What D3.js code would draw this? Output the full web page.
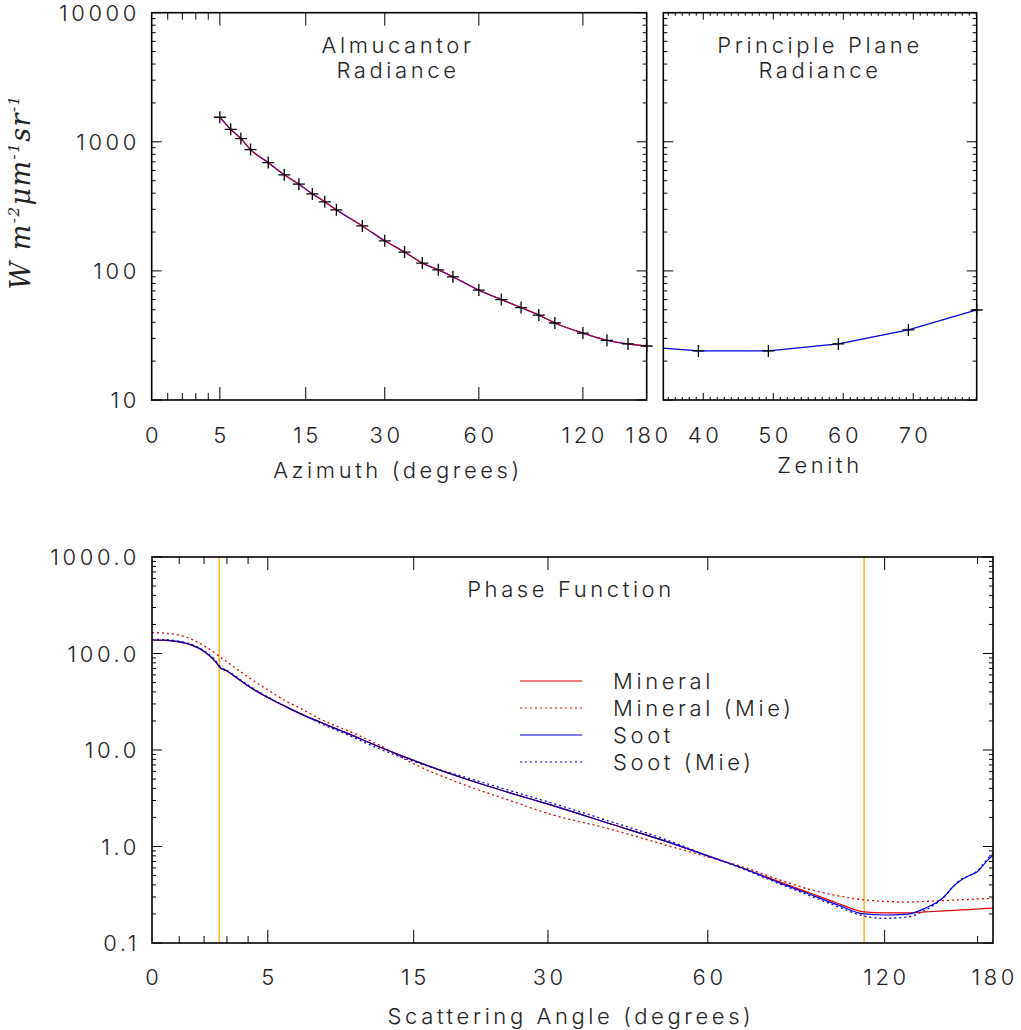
<!DOCTYPE html>
<html><head><meta charset="utf-8">
<script src="https://cdn.jsdelivr.net/npm/d3@7"></script>
<style>
body{margin:0;background:#fff;}
text{font-family:Inter,"DejaVu Sans",sans-serif;font-weight:300;fill:#222;}
</style></head>
<body><svg id="c" width="1021" height="1030"></svg>
<script>
// ---------- data ----------
const almAzimuth = [5,6,7,8,10,12,14,16,18,20,25,30,35,40,45,50,60,70,80,90,100,120,140,160,180];
const almRadiance = [1550,1250,1060,870,690,555,470,395,343,297,223,171,140,115,102,90,71,60,52,45.5,39.5,33,29,27.2,26.2];
const ppZenith = [39.3,49.3,59.3,69.3,79.06];
const ppRadiance = [24.0,24.0,27.2,34.9,49.8];
const ppLineZenith = [34.29,39.3,49.3,59.3,69.3,79.06];
const ppLineRadiance = [25.2,24.0,24.0,27.2,34.9,49.8];

const phAngle = [0,0.5,1,1.5,2,2.5,2.7,3,3.5,4,5,6,7,8,10,12,15,20,25,30,40,50,60,70,80,90,100,111,120,130,140,150,155,160,165,170,175,180];
const mineral = [138,137,132,122,105,82,71,66,55,46,35,28,23,19.5,14.5,11,7.8,5.0,3.6,2.75,1.7,1.15,0.8,0.58,0.43,0.33,0.26,0.21,0.205,0.205,0.21,0.215,0.218,0.22,0.222,0.225,0.228,0.23];
const mineralMie = [165,162,155,140,120,100,92,82,68,57,42,32,26,21,15.5,11.5,7.2,4.3,3.0,2.2,1.5,1.05,0.78,0.6,0.45,0.36,0.31,0.28,0.27,0.265,0.27,0.275,0.278,0.28,0.283,0.286,0.288,0.29];
const soot = [138,137,132,122,105,82,71,66,55,46,35,28,23,19.5,14.5,11,7.8,5.0,3.6,2.75,1.7,1.15,0.8,0.58,0.42,0.32,0.25,0.2,0.195,0.198,0.23,0.3,0.38,0.45,0.5,0.55,0.68,0.82];
const sootMie = [140,139,134,124,107,84,73,67,56,47,35.5,28,23,19,14,10.5,7.6,5.2,3.8,2.9,1.8,1.2,0.8,0.57,0.41,0.31,0.24,0.19,0.18,0.185,0.22,0.3,0.38,0.46,0.5,0.56,0.7,0.85];
const orangeLines = [2.65,111];

const yTicksTop = [10,100,1000,10000];
const yTicksBottom = [0.1,1,10,100,1000];
const xTickAngles = [0,5,15,30,60,120,180];
const xMinorAngles = [1,2,3,4];
const zenTicks = [40,50,60,70];

const legendNames = ["Mineral","Mineral (Mie)","Soot","Soot (Mie)"];
const legendColors = ["#e00000","#e00000","#0000e0","#0000e0"];
const legendDash = [null,"2,3",null,"2,3"];

// ---------- setup ----------
const svg = d3.select("#c");
const RED="#e00000", BLUE="#0000e0", ORANGE="#ffa500";

function minorLog(lo,hi){const r=[];for(let e=Math.floor(Math.log10(lo));e<Math.log10(hi);e++){for(let m=2;m<=9;m++){const v=m*Math.pow(10,e);if(v>lo&&v<hi)r.push(v);}}return r;}

function frame(g,x0,y0,x1,y1){
  g.append("rect").attr("x",x0).attr("y",y0).attr("width",x1-x0).attr("height",y1-y0)
   .attr("fill","none").attr("stroke","#000").attr("stroke-width",1.6);
}
function yTicksDraw(g,y,x0,x1,majors,minors,maj,min){
  majors.forEach(v=>{const yy=y(v);g.append("line").attr("x1",x0).attr("x2",x0+maj).attr("y1",yy).attr("y2",yy).attr("stroke","#000");
    g.append("line").attr("x1",x1).attr("x2",x1-maj).attr("y1",yy).attr("y2",yy).attr("stroke","#000");});
  minors.forEach(v=>{const yy=y(v);g.append("line").attr("x1",x0).attr("x2",x0+min).attr("y1",yy).attr("y2",yy).attr("stroke","#000");
    g.append("line").attr("x1",x1).attr("x2",x1-min).attr("y1",yy).attr("y2",yy).attr("stroke","#000");});
}
function xTicksDraw(g,x,y0,y1,majors,minors,maj,min){
  majors.forEach(v=>{const xx=x(v);g.append("line").attr("x1",xx).attr("x2",xx).attr("y1",y1).attr("y2",y1-maj).attr("stroke","#000");
    g.append("line").attr("x1",xx).attr("x2",xx).attr("y1",y0).attr("y2",y0+maj).attr("stroke","#000");});
  minors.forEach(v=>{const xx=x(v);g.append("line").attr("x1",xx).attr("x2",xx).attr("y1",y1).attr("y2",y1-min).attr("stroke","#000");
    g.append("line").attr("x1",xx).attr("x2",xx).attr("y1",y0).attr("y2",y0+min).attr("stroke","#000");});
}
const LS = 3.6; // letter spacing
function label(x,y,t,anchor,size){
  return svg.append("text").attr("x",x).attr("y",y).attr("text-anchor",anchor||"middle")
    .attr("font-size",size||22).attr("letter-spacing",LS).text(t);
}

// ---------- panel 1: almucantar ----------
const p1 = {x0:151.7,x1:646.7,y0:12.7,y1:400};
const xAlm = d3.scaleSymlog().constant(10).domain([0,180]).range([p1.x0,p1.x1]);
const yTop = d3.scaleLog().domain([10,10000]).range([p1.y1,p1.y0]);
const g1 = svg.append("g");
xTicksDraw(g1,xAlm,p1.y0,p1.y1,xTickAngles.slice(1,-1),xMinorAngles,13,7);
yTicksDraw(g1,yTop,p1.x0,p1.x1,yTicksTop,minorLog(10,10000),10,4);
const lineAlm = d3.line().x((d,i)=>xAlm(almAzimuth[i])).y(d=>yTop(d)).curve(d3.curveMonotoneX);
g1.append("path").attr("d",lineAlm(almRadiance)).attr("fill","none").attr("stroke",BLUE).attr("stroke-width",1.3);
g1.append("path").attr("d",lineAlm(almRadiance)).attr("fill","none").attr("stroke",RED).attr("stroke-width",1.1).attr("opacity",0.85);
almAzimuth.forEach((a,i)=>{const cx=xAlm(a),cy=yTop(almRadiance[i]);
  g1.append("path").attr("d",`M${cx-6},${cy}H${cx+6}M${cx},${cy-6}V${cy+6}`).attr("stroke","#000").attr("stroke-width",1.3);});
frame(g1,p1.x0,p1.y0,p1.x1,p1.y1);
xTickAngles.forEach(a=>label(xAlm(a)+LS/2,443,String(a)));
yTicksTop.forEach(v=>label(140,yTop(v)+8,String(v),"end"));
label(398,53,"Almucantor");
label(398,78,"Radiance");
label(398,478,"Azimuth (degrees)");

// ---------- panel 2: principal plane ----------
const p2 = {x0:663.3,x1:976.7,y0:12.7,y1:400};
const xZen = d3.scaleLinear().domain([34.29,79.06]).range([p2.x0,p2.x1]);
const g2 = svg.append("g");
xTicksDraw(g2,xZen,p2.y0,p2.y1,zenTicks,d3.range(35,80).filter(v=>v%10!==0),7,3);
yTicksDraw(g2,yTop,p2.x0,p2.x1,yTicksTop,minorLog(10,10000),10,4);
const linePP = d3.line().x((d,i)=>xZen(ppLineZenith[i])).y(d=>yTop(d));
g2.append("path").attr("d",linePP(ppLineRadiance)).attr("fill","none").attr("stroke",BLUE).attr("stroke-width",1.3);
ppZenith.forEach((z,i)=>{const cx=xZen(z),cy=yTop(ppRadiance[i]);
  g2.append("path").attr("d",`M${cx-6},${cy}H${cx+6}M${cx},${cy-6}V${cy+6}`).attr("stroke","#000").attr("stroke-width",1.3);});
frame(g2,p2.x0,p2.y0,p2.x1,p2.y1);
zenTicks.forEach(z=>label(xZen(z)+LS/2,443,String(z)));
label(820,53,"Principle Plane");
label(820,78,"Radiance");
label(820,473,"Zenith");

// y axis title
const yt = svg.append("text").attr("transform","translate(30,192) rotate(-90)").attr("text-anchor","middle")
  .style("font-family","'DejaVu Serif','Liberation Serif',serif").style("font-style","italic").style("font-weight","400")
  .attr("font-size",27).attr("letter-spacing",1.5);
[["W m",0],["-2",1],["\u03BCm",0],["-1",1],["sr",0],["-1",1]].forEach(([t,s])=>{
  const ts=yt.append("tspan").text(t);
  if(s){ts.attr("font-size",15).attr("dy",-11);} else ts.attr("dy",yt.selectAll("tspan").size()>1?11:0);
});

// ---------- panel 3: phase function ----------
const p3 = {x0:152,x1:993,y0:557,y1:943};
const xPh = d3.scaleSymlog().constant(10).domain([0,180]).range([p3.x0,p3.x1]);
const yPh = d3.scaleLog().domain([0.1,1000]).range([p3.y1,p3.y0]);
const g3 = svg.append("g");
svg.append("clipPath").attr("id","cp3").append("rect").attr("x",p3.x0).attr("y",p3.y0).attr("width",p3.x1-p3.x0).attr("height",p3.y1-p3.y0);
xTicksDraw(g3,xPh,p3.y0,p3.y1,xTickAngles.slice(1,-1),xMinorAngles.concat([170]),13,7);
yTicksDraw(g3,yPh,p3.x0,p3.x1,yTicksBottom,minorLog(0.1,1000),10,4);
orangeLines.forEach(a=>g3.append("line").attr("x1",xPh(a)).attr("x2",xPh(a)).attr("y1",p3.y0).attr("y2",p3.y1).attr("stroke",ORANGE).attr("stroke-width",1.3));
const linePh = d3.line().x((d,i)=>xPh(phAngle[i])).y(d=>yPh(d)).curve(d3.curveMonotoneX);
const cg = g3.append("g").attr("clip-path","url(#cp3)");
cg.append("path").attr("d",linePh(mineralMie)).attr("fill","none").attr("stroke",RED).attr("stroke-width",1.3).attr("stroke-dasharray","2,3");
cg.append("path").attr("d",linePh(sootMie)).attr("fill","none").attr("stroke",BLUE).attr("stroke-width",1.3).attr("stroke-dasharray","2,3");
cg.append("path").attr("d",linePh(mineral)).attr("fill","none").attr("stroke",RED).attr("stroke-width",1.2);
cg.append("path").attr("d",linePh(soot)).attr("fill","none").attr("stroke",BLUE).attr("stroke-width",1.2);
cg.append("path").attr("d",linePh(mineral.slice(0,22))).attr("fill","none").attr("stroke","#300010").attr("stroke-width",0.8).attr("opacity",0.5);
frame(g3,p3.x0,p3.y0,p3.x1,p3.y1);
xTickAngles.forEach(a=>label(xPh(a)+LS/2,985,String(a)));
yTicksBottom.forEach(v=>label(140,yPh(v)+8,v.toFixed(1),"end"));
label(571,597,"Phase Function");
label(571,1024,"Scattering Angle (degrees)");
legendNames.forEach((n,i)=>{
  const y = 681+i*27;
  const l = g3.append("line").attr("x1",520).attr("x2",582).attr("y1",y).attr("y2",y).attr("stroke",legendColors[i]).attr("stroke-width",1.2);
  if(legendDash[i]) l.attr("stroke-dasharray",legendDash[i]);
  label(613,y+8,n,"start");
});
</script></body></html>
